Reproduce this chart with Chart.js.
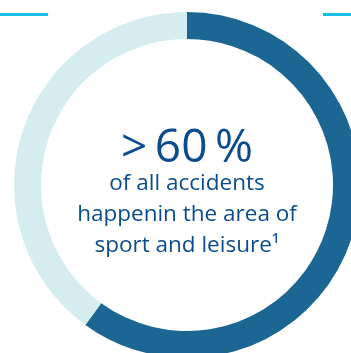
<!DOCTYPE html>
<html>
<head>
<meta charset="utf-8">
<script src="https://cdn.jsdelivr.net/npm/chart.js@4"></script>
<style>
  html, body { margin:0; padding:0; background:#fff; overflow:hidden; }
  #wrap { position:relative; width:351px; height:353px; overflow:hidden; }
  #c { position:absolute; left:14px; top:12px; }
  .deco { position:absolute; height:3px; background:#1cbde8; top:13px; }
</style>
</head>
<body>
<div id="wrap">
  <div class="deco" style="left:0;width:48px;"></div>
  <div class="deco" style="left:323px;width:28px;"></div>
  <canvas id="c" width="346" height="346"></canvas>
</div>
<script>
const categories = ["Sport and leisure", "Other"];
const values = [60, 40];
const colors = ["#1b6693", "#d5edf1"];
const headline = ">\u200960\u2009%";
const captionLines = ["of all accidents", "happenin the area of", "sport and leisure\u00B9"];

const centerText = {
  id: 'centerText',
  afterDraw(chart) {
    const {ctx} = chart;
    const meta = chart.getDatasetMeta(0).data[0];
    const cx = meta.x, cy = meta.y;
    ctx.save();
    ctx.fillStyle = '#0b4c8e';
    ctx.textAlign = 'center';
    ctx.textBaseline = 'alphabetic';
    ctx.font = '400 46px "Open Sans"';
    ctx.fillText(headline, cx, cy - 23);
    ctx.font = '400 22.5px "Open Sans"';
    captionLines.forEach((t, i) => ctx.fillText(t, cx, cy + 5 + i * 31));
    ctx.restore();
  }
};

new Chart(document.getElementById('c'), {
  type: 'doughnut',
  data: {
    labels: categories,
    datasets: [{ data: values, backgroundColor: colors, borderWidth: 0, hoverOffset: 0 }]
  },
  options: {
    responsive: false,
    animation: false,
    cutout: '84.4%',
    layout: { padding: 0 },
    plugins: { legend: { display: false }, tooltip: { enabled: false } }
  },
  plugins: [centerText]
});
</script>
</body>
</html>
